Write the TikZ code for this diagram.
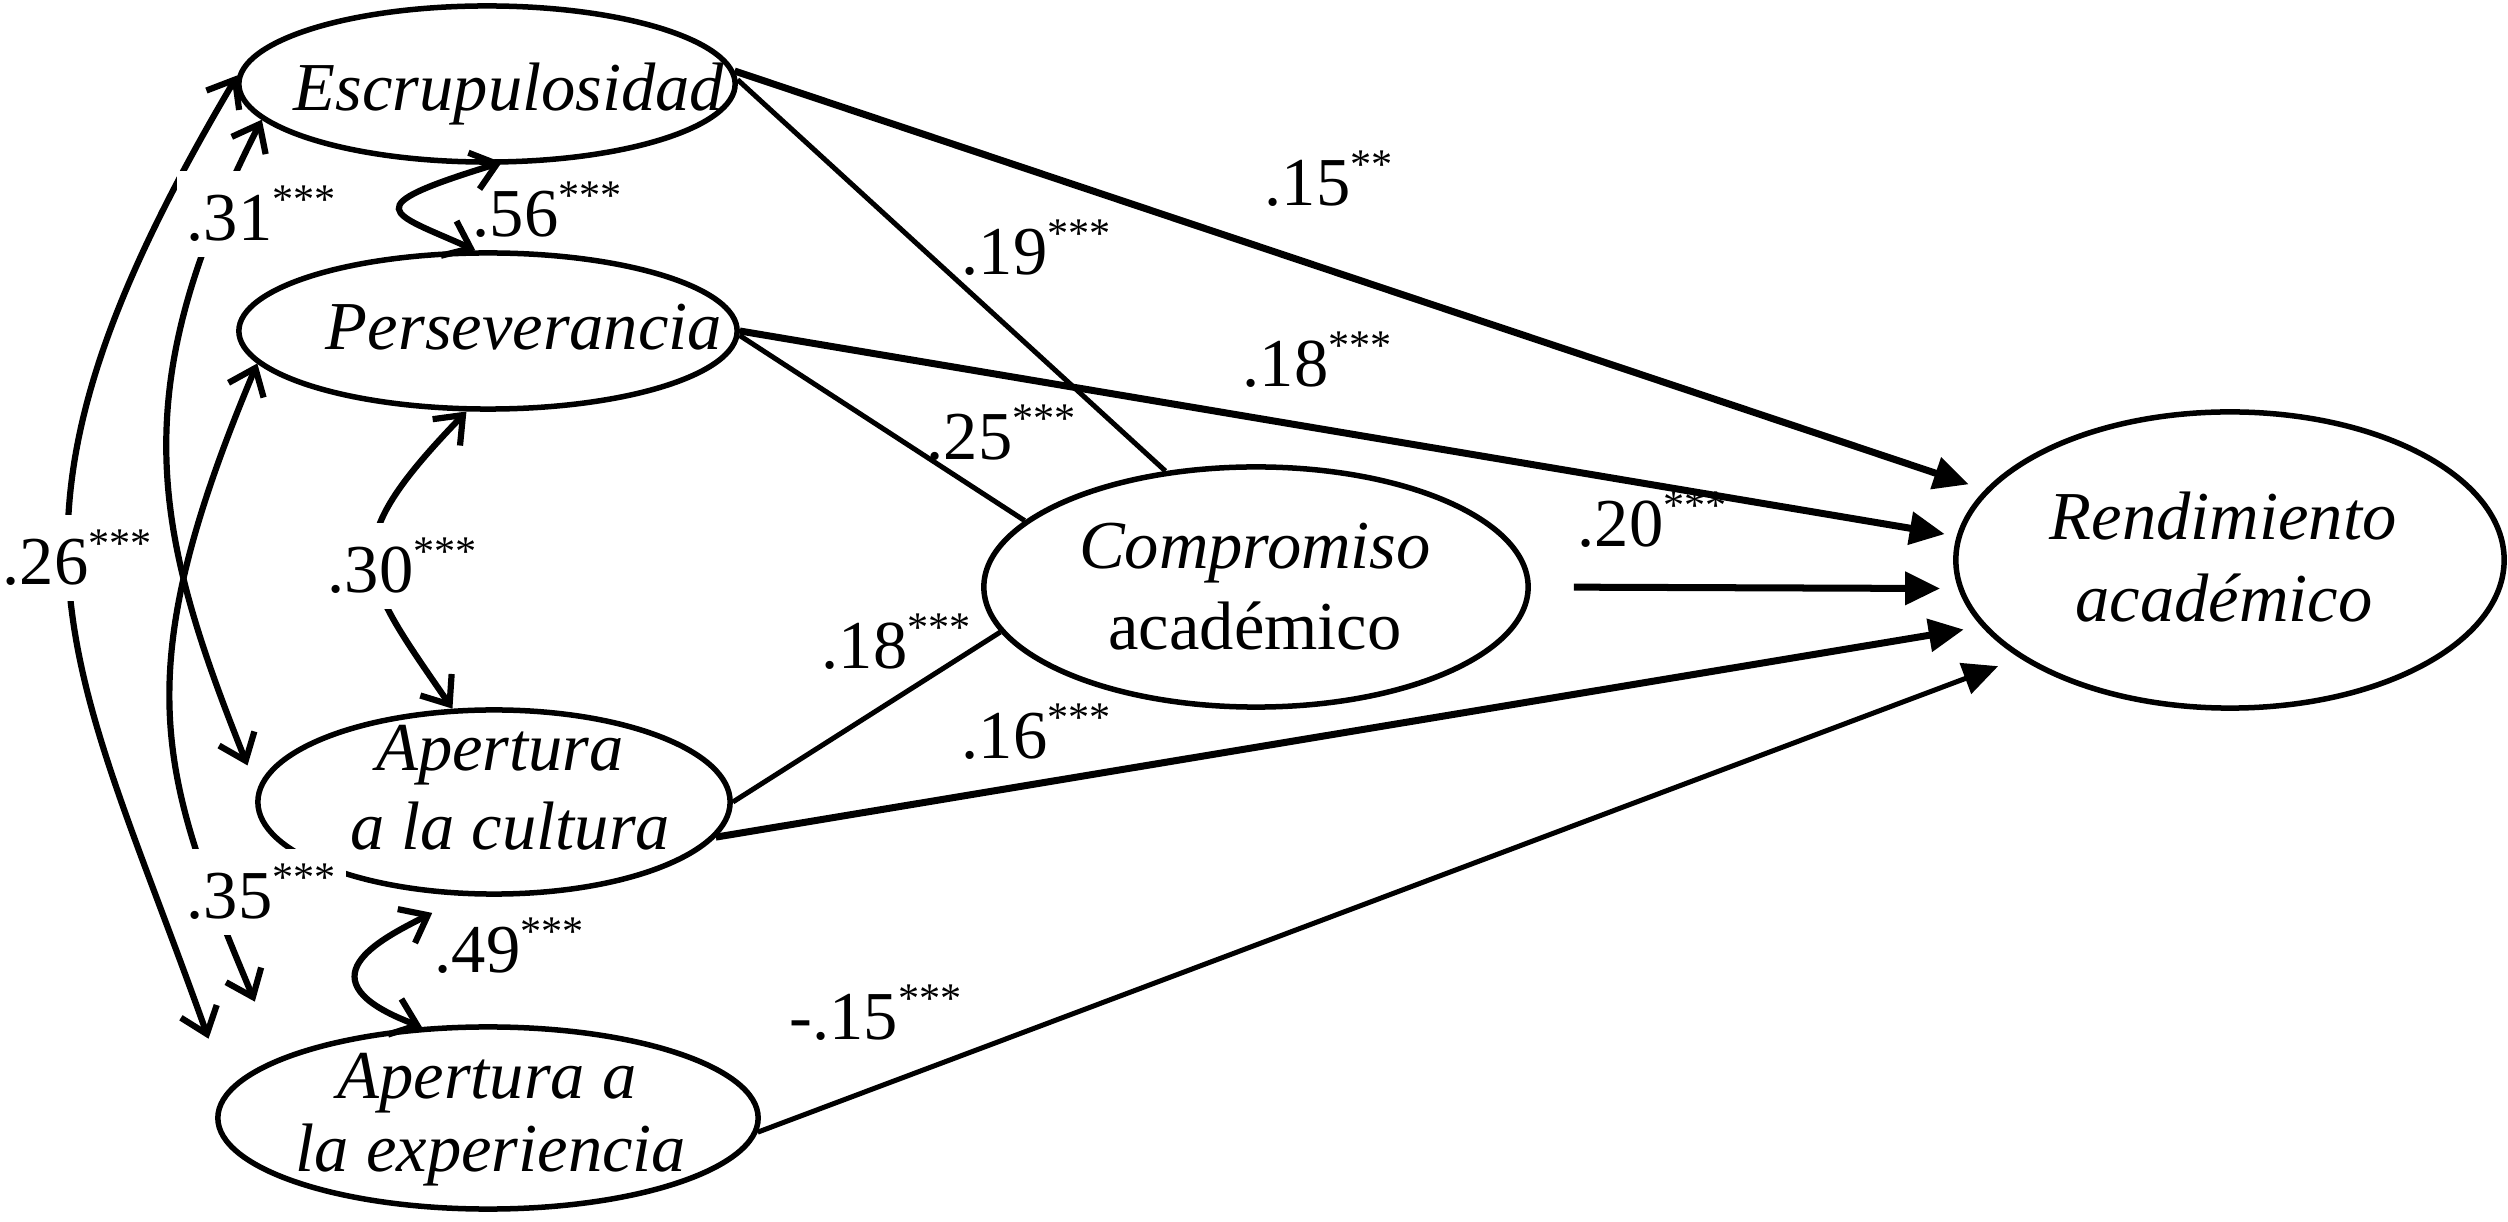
\documentclass[tikz,border=0pt]{standalone}
\usepackage{fontspec}
\setmainfont{Liberation Serif}
\usetikzlibrary{arrows.meta,shapes.geometric}
\newcommand\sig[1]{\raisebox{2.7mm}{\fontsize{12}{12}\selectfont #1}}
\begin{document}
\begin{tikzpicture}[x=0.01cm,y=-0.01cm,
  lat/.style={ellipse, draw, line width=0.55mm, inner sep=0},
  txt/.style={inner sep=0, anchor=base, font=\fontsize{19.5}{20}\selectfont\itshape},
  txtup/.style={inner sep=0, anchor=base, font=\fontsize{19.5}{20}\selectfont},
  lbl/.style={inner sep=0, anchor=base west, font=\fontsize{19.5}{20}\selectfont},
  clbl/.style={fill=white, inner xsep=1mm, inner ysep=1.5mm, anchor=base west, font=\fontsize{19.5}{20}\selectfont},
  cov/.style={line width=0.62mm, >={Straight Barb[length=2.4mm,width=3.8mm]}, <->},
  effect/.style={line width=0.7mm, -{Triangle[length=3.5mm,width=3.2mm]}},
  weak/.style={line width=0.5mm, -{Triangle[length=3.5mm,width=3.2mm]}},
  tocomp/.style={line width=0.5mm}]
\useasboundingbox (0,0) rectangle (2508,1222);
% latent variables
\node[lat, minimum width=4.96cm, minimum height=1.56cm] (E) at (487,84) {};
\node[lat, minimum width=4.98cm, minimum height=1.56cm] (P) at (488,331) {};
\node[lat, minimum width=4.72cm, minimum height=1.84cm] (AC) at (494,802) {};
\node[lat, minimum width=5.40cm, minimum height=1.82cm] (AE) at (488,1118) {};
\node[lat, minimum width=5.44cm, minimum height=2.40cm] (C) at (1256,587) {};
\node[lat, minimum width=5.48cm, minimum height=2.96cm] (R) at (2230,560) {};
% texts
\node[txt] (tE) at (509,111) {Escrupulosidad};
\node[txt] (tP) at (524,350) {Perseverancia};
\node[txt] (tAC1) at (500,771) {Apertura};
\node[txt] (tAC2) at (510,850) {a la cultura};
\node[txt] (tAE1) at (487,1098) {Apertura a};
\node[txt] (tAE2) at (491,1171) {la experiencia};
\node[txt] (tC1) at (1255,569) {Compromiso};
\node[txtup] (tC2) at (1255,650) {académico};
\node[txt] (tR1) at (2223,540) {Rendimiento};
\node[txt] (tR2) at (2224,622) {académico};
% paths to Compromiso
\draw[tocomp] (E.1) -- (C.128);
\draw[tocomp] (P.359) -- (C.164);
\draw[tocomp] (AC.0) -- (C.190);
% paths to Rendimiento
\draw[effect, shorten >=1.7mm] (E.3) -- (R.164);
\draw[effect, shorten >=1.2mm] (P.0) -- (R.175);
\draw[effect, shorten <=4.3mm, shorten >=1.8mm] (C.0) -- (R.186);
\draw[effect, shorten >=1.8mm] (AC.351) -- (R.195);
\draw[weak, shorten >=2.3mm] (AE.357) -- (R.205);
% covariances
\draw[cov, shorten >=5.5mm] (E.178) .. controls (-32,530) and (69,647) .. (AE.174);
\draw[cov, shorten >=2.6mm] (E.189) .. controls (124,390) and (152,527) .. (AC.177);
\draw[cov, shorten >=6.1mm] (P.188) .. controls (126,676) and (158,771) .. (AE.164);
\draw[cov] (P.255) .. controls (335,548) and (357,570) .. (AC.114);
\draw[cov, shorten <=-0.8mm] (E.275) .. controls (353,208) and (390,212) .. (P.99);
\draw[cov, shorten <=3.7mm] (AC.253) .. controls (381,939) and (297,980) .. (AE.126);
% coefficient labels
\node[clbl] (l26) at (-8,585) {.26\sig{***}};
\node[clbl] (l31) at (176,241) {.31\sig{***}};
\node[clbl] (l35) at (176,919) {.35\sig{***}};
\node[clbl] (l30) at (317,593) {.30\sig{***}};
\node[lbl] (l56) at (472,237) {.56\sig{***}};
\node[lbl] (l49) at (434,973) {.49\sig{***}};
\node[lbl] (l19) at (961,275) {.19\sig{***}};
\node[lbl] (l15) at (1264,206) {.15\sig{**}};
\node[lbl] (l18a) at (1242,387) {.18\sig{***}};
\node[lbl] (l25) at (926,460) {.25\sig{***}};
\node[lbl] (l20) at (1577,547) {.20\sig{***}};
\node[lbl] (l18b) at (821,669) {.18\sig{***}};
\node[lbl] (l16) at (961,759) {.16\sig{***}};
\node[lbl] (l15n) at (789,1040) {-.15\sig{***}};
\end{tikzpicture}
\end{document}
